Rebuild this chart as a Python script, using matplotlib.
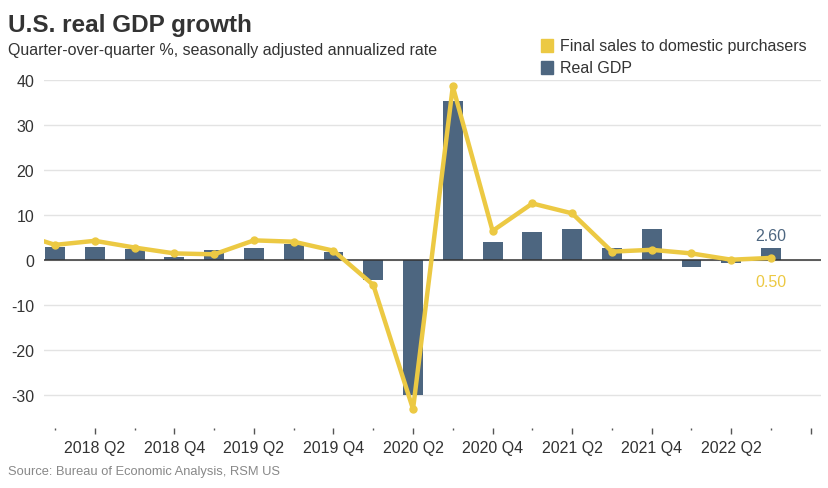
import matplotlib.pyplot as plt
import numpy as np
from matplotlib.ticker import FixedLocator

plt.rcParams["font.family"] = ["Liberation Sans", "DejaVu Sans"]
plt.rcParams["axes.unicode_minus"] = False

# quarters 2017 Q4 .. 2022 Q3 (2017 Q4 sits just outside the visible range)
quarters = ["2017 Q4",
            "2018 Q1", "2018 Q2", "2018 Q3", "2018 Q4",
            "2019 Q1", "2019 Q2", "2019 Q3", "2019 Q4",
            "2020 Q1", "2020 Q2", "2020 Q3", "2020 Q4",
            "2021 Q1", "2021 Q2", "2021 Q3", "2021 Q4",
            "2022 Q1", "2022 Q2", "2022 Q3"]
real_gdp = [np.nan,
            3.0, 3.0, 2.5, 0.7,
            2.2, 2.7, 3.6, 1.8,
            -4.5, -29.9, 35.3, 4.0,
            6.3, 7.0, 2.7, 7.0,
            -1.6, -0.6, 2.6]
final_sales = [6.2,
               3.4, 4.3, 2.8, 1.5,
               1.3, 4.4, 4.1, 2.1,
               -5.5, -33.1, 38.6, 6.5,
               12.6, 10.4, 1.9, 2.3,
               1.5, 0.1, 0.5]
tick_labels = ["2018 Q2", "2018 Q4", "2019 Q2", "2019 Q4", "2020 Q2",
               "2020 Q4", "2021 Q2", "2021 Q4", "2022 Q2", ""]

BAR_COLOR = "#4d6680"
LINE_COLOR = "#ecc943"
TEXT_COLOR = "#333333"

x = np.arange(len(quarters)) - 1  # 2018 Q1 -> 0

fig = plt.figure(figsize=(8.29, 4.89), dpi=100)
ax = fig.add_axes([0.053, 0.1227, 0.937, 0.7113])

ax.bar(x, real_gdp, width=0.5, color=BAR_COLOR, zorder=2)
ax.plot(x, final_sales, color=LINE_COLOR, linewidth=3.2, marker="o",
        markersize=5, zorder=3, solid_joinstyle="round")

ax.set_xlim(-0.28, 19.25)
ax.set_ylim(-37.3, 40)

ax.set_yticks(np.arange(-30, 41, 10))
ax.grid(axis="y", color="#e3e3e3", linewidth=1, zorder=0)
ax.axhline(0, color="#333333", linewidth=1.1, zorder=2.5)

ax.xaxis.set_major_locator(FixedLocator(np.arange(1, 20, 2)))
ax.xaxis.set_minor_locator(FixedLocator(np.arange(0, 19, 2)))
ax.set_xticklabels(tick_labels)
ax.tick_params(axis="x", which="major", length=4, width=1, color="#555555",
               labelsize=11.5, labelcolor=TEXT_COLOR, pad=5)
ax.tick_params(axis="x", which="minor", length=1.5, width=1, color="#555555")
ax.tick_params(axis="y", length=0, labelsize=11.5, labelcolor=TEXT_COLOR, pad=7)

for side in ("top", "right", "left", "bottom"):
    ax.spines[side].set_visible(False)

# end-point labels
ax.text(x[-1], real_gdp[-1] + 1.2, f"{real_gdp[-1]:.2f}", color=BAR_COLOR,
        fontsize=11.5, ha="center", va="bottom")
ax.text(x[-1], final_sales[-1] - 3.6, f"{final_sales[-1]:.2f}", color=LINE_COLOR,
        fontsize=11.5, ha="center", va="top")

# titles
fig.text(0.010, 0.948, "U.S. real GDP growth", fontsize=17.5, fontweight="bold",
         color=TEXT_COLOR, va="center")
fig.text(0.010, 0.896, "Quarter-over-quarter %, seasonally adjusted annualized rate",
         fontsize=11.5, color=TEXT_COLOR, va="center")
fig.text(0.010, 0.035, "Source: Bureau of Economic Analysis, RSM US",
         fontsize=9.3, color="#888888", va="center")

# legend
legend_items = [("Final sales to domestic purchasers", LINE_COLOR),
                ("Real GDP", BAR_COLOR)]
for i, (label, color) in enumerate(legend_items):
    yy = 0.905 - i * 0.045
    fig.patches.append(plt.Rectangle((0.653, yy - 0.014), 0.0145, 0.028,
                                     transform=fig.transFigure, color=color))
    fig.text(0.675, yy, label, fontsize=11.5, color=TEXT_COLOR, va="center")

fig.savefig("out.png", dpi=100)
